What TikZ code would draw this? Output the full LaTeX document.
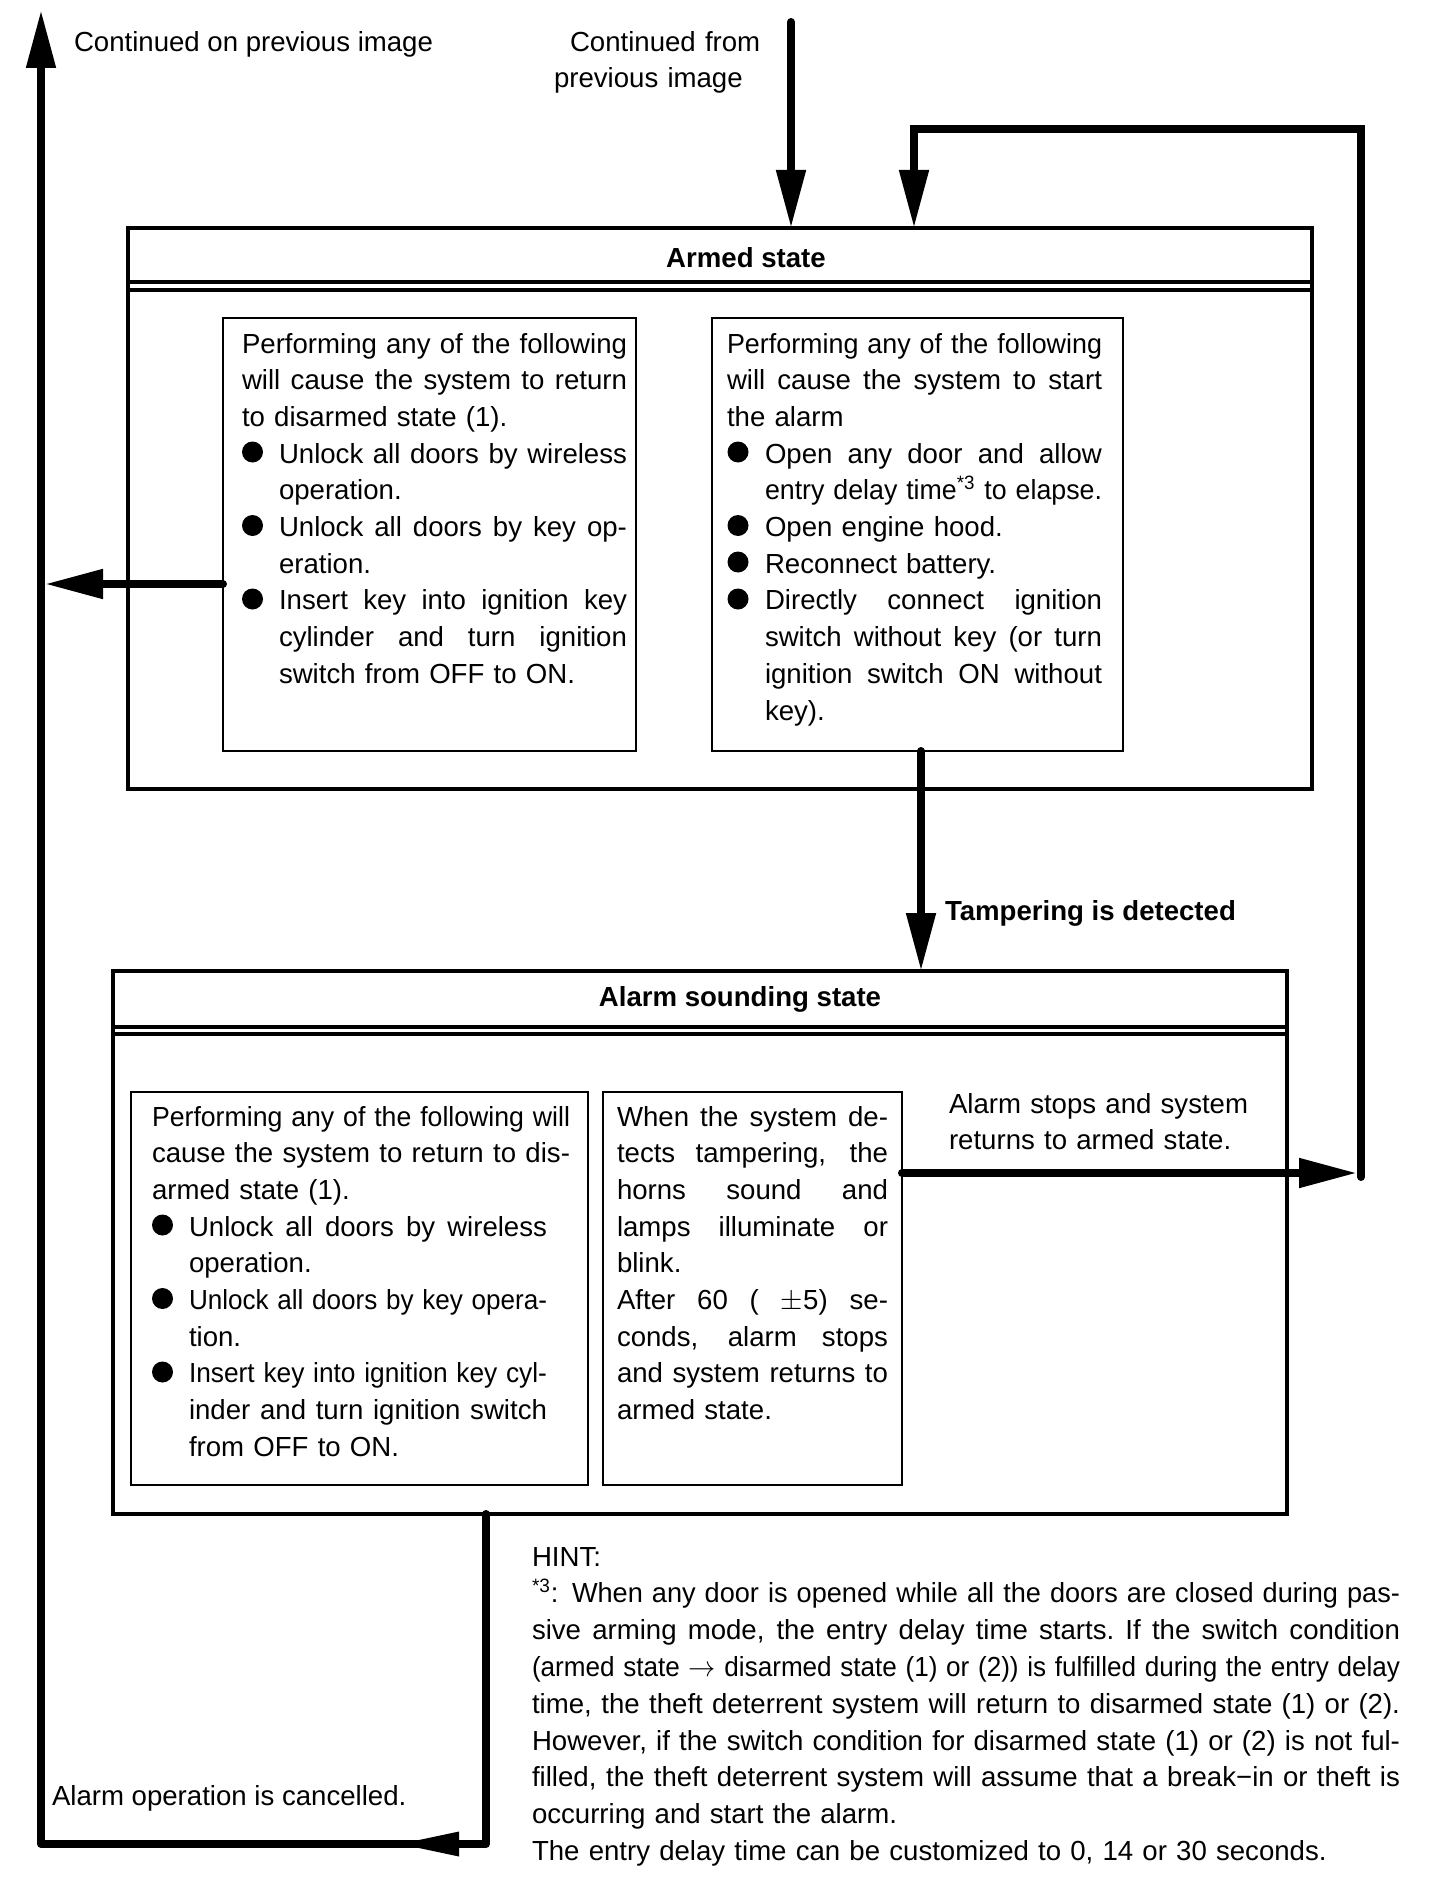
\documentclass[tikz,border=0pt]{standalone}
\usepackage{fontspec}
\setmainfont{Liberation Sans}
\usepackage{graphicx}
\usetikzlibrary{arrows.meta}

\newsavebox\jlbox
\newlength\tind
\newlength\tw
\newcommand\JL[2]{\sbox\jlbox{#2}\ifdim\wd\jlbox>#1\relax\resizebox{#1}{\height}{\usebox\jlbox}\else{\spaceskip=0.278em plus 1fil\xspaceskip=\spaceskip\makebox[#1][s]{#2}}\fi}
\newcommand\jfull[1]{\noindent\JL{\linewidth}{#1}\par}
\newcommand\jlast[1]{\noindent #1\par}
\newcommand\jind[1]{\noindent\hspace*{\tind}\JL{\tw}{#1}\par}
\newcommand\jindlast[1]{\noindent\hspace*{\tind}#1\par}

\tikzset{
  box/.style={draw, line width=1.7pt, inner sep=0pt, outer sep=0pt, anchor=north west},
  ibox/.style={draw, line width=1.3pt, inner sep=0pt, outer sep=0pt, anchor=north west},
  dbl/.style={line width=1.8pt},
  conn/.style={line width=4pt, line cap=round, line join=round},
  tipA/.style={-{Triangle[length=29pt,width=14pt]}},
  txt/.style={inner sep=0pt, outer sep=0pt, anchor=base west, font=\fontsize{13.8pt}{18.35pt}\selectfont},
  ttl/.style={inner sep=0pt, outer sep=0pt, font=\fontsize{13.8pt}{18.35pt}\selectfont\bfseries},
}

\begin{document}
\begin{tikzpicture}[x=0.5pt,y=-0.5pt]
\useasboundingbox (0,0) rectangle (1440,1894);
\fill[white] (0,0) rectangle (1440,1894);

% ---------- boxes ----------
\node[box, minimum width=592pt, minimum height=280.5pt] (armed) at (128,228) {};
\node[ibox, minimum width=206.5pt, minimum height=216.5pt] (armedL) at (223,318) {};
\node[ibox, minimum width=205.5pt, minimum height=216.5pt] (armedR) at (712,318) {};
\node[box, minimum width=587pt, minimum height=271.5pt] (alarm) at (113,971) {};
\node[ibox, minimum width=228.5pt, minimum height=196.5pt] (alarmL) at (131,1092) {};
\node[ibox, minimum width=149.5pt, minimum height=196.5pt] (alarmM) at (603,1092) {};

% double lines under titles
\draw[dbl] (128,282) -- (1312,282);
\draw[dbl] (128,290) -- (1312,290);
\draw[dbl] (113,1027) -- (1287,1027);
\draw[dbl] (113,1034) -- (1287,1034);

% ---------- titles and labels ----------
\node[ttl, anchor=base] (armedT) at (746,267) {Armed state};
\node[ttl, anchor=base] (alarmT) at (740,1006) {Alarm sounding state};
\node[ttl, anchor=base west] (tamper) at (945,920) {Tampering is detected};
\node[txt] (contOn) at (74,52) {Continued on previous image};
\node[txt, text width=110pt, font=\fontsize{13.8pt}{18pt}\selectfont] (contFrom) at (554,52) {\hspace*{8pt}Continued from\par previous image};
\node[txt, text width=200pt] (stops) at (949,1113) {Alarm stops and system\par returns to armed state.};
\node[txt] (cancel) at (52,1805) {Alarm operation is cancelled.};

% ---------- text blocks ----------
\node[txt, text width=192.5pt] (armedLtext) at (242,353) {\setlength\tind{18.5pt}\setlength\tw{174pt}%
\jfull{Performing any of the following}%
\jfull{will cause the system to return}%
\jlast{to disarmed state (1).}%
\jind{Unlock all doors by wireless}%
\jindlast{operation.}%
\jind{Unlock all doors by key op-}%
\jindlast{eration.}%
\jind{Insert key into ignition key}%
\jind{cylinder and turn ignition}%
\jindlast{switch from OFF to ON.}};

\node[txt, text width=187.5pt] (armedRtext) at (727,353) {\setlength\tind{19pt}\setlength\tw{168.5pt}%
\jfull{Performing any of the following}%
\jfull{will cause the system to start}%
\jlast{the alarm}%
\jind{Open any door and allow}%
\jind{entry delay time\textsuperscript{*3} to elapse.}%
\jindlast{Open engine hood.}%
\jindlast{Reconnect battery.}%
\jind{Directly connect ignition}%
\jind{switch without key (or turn}%
\jind{ignition switch ON without}%
\jindlast{key).}};

\node[txt, text width=209pt] (alarmLtext) at (152,1126) {\setlength\tind{18.5pt}\setlength\tw{179pt}%
\jfull{Performing any of the following will}%
\jfull{cause the system to return to dis-}%
\jlast{armed state (1).}%
\jind{Unlock all doors by wireless}%
\jindlast{operation.}%
\jind{Unlock all doors by key opera-}%
\jindlast{tion.}%
\jind{Insert key into ignition key cyl-}%
\jind{inder and turn ignition switch}%
\jindlast{from OFF to ON.}};

\node[txt, text width=135.5pt] (alarmMtext) at (617,1126) {%
\jfull{When the system de-}%
\jfull{tects tampering, the}%
\jfull{horns sound and}%
\jfull{lamps illuminate or}%
\jlast{blink.}%
\jfull{After 60 ( $\pm$5) se-}%
\jfull{conds, alarm stops}%
\jfull{and system returns to}%
\jlast{armed state.}};

\node[txt, text width=434pt, font=\fontsize{13.8pt}{18.4pt}\selectfont] (hint) at (532,1566) {%
\jlast{HINT:}%
\jfull{\textsuperscript{*3}: When any door is opened while all the doors are closed during pas-}%
\jfull{sive arming mode, the entry delay time starts. If the switch condition}%
\jfull{(armed state $\rightarrow$ disarmed state (1) or (2)) is fulfilled during the entry delay}%
\jfull{time, the theft deterrent system will return to disarmed state (1) or (2).}%
\jfull{However, if the switch condition for disarmed state (1) or (2) is not ful-}%
\jfull{filled, the theft deterrent system will assume that a break−in or theft is}%
\jlast{occurring and start the alarm.}%
\jlast{The entry delay time can be customized to 0, 14 or 30 seconds.}};

% bullets
\foreach \bx/\by in {252.5/452, 252.5/525.5, 252.5/599,
                     738/452, 738/525.5, 738/562, 738/599,
                     162.5/1225, 162.5/1298.5, 162.5/1372}
  \fill (\bx,\by) circle (5.25pt);

% ---------- connectors ----------
\coordinate (inTop) at (791,22);
\draw[conn, tipA] (inTop) -- (inTop |- armed.north);

\coordinate (sy) at (0,1173);
\coordinate (lpB) at (1361,1177);
\coordinate (lpR) at (1361,129);
\coordinate (lpL) at (914,129);
\draw[conn, tipA] (alarmM.east |- sy) -- (1357,1173);
\draw[conn, tipA, line join=miter] (lpB) -- (lpR) -- (lpL) -- (lpL |- armed.north);

\coordinate (tx) at (921,0);
\draw[conn, tipA] (tx |- armedR.south) -- (tx |- alarm.north);

\coordinate (ly) at (0,584);
\coordinate (mainX) at (45,0);
\draw[conn, tipA] (armedL.west |- ly) -- (mainX |- ly);

\coordinate (rx) at (486,0);
\coordinate (bl) at (41,1844);
\coordinate (tl) at (41,10);
\draw[conn, tipA] (rx |- alarm.south) -- (rx |- bl) -- (bl) -- (tl);
\fill (400,1844) -- (459,1831.5) -- (459,1856.5) -- cycle;

\end{tikzpicture}
\end{document}
